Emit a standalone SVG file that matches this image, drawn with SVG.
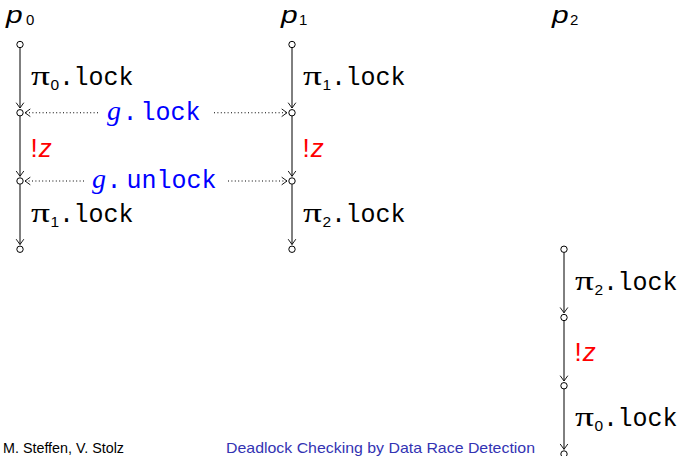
<svg xmlns="http://www.w3.org/2000/svg" width="683" height="456" viewBox="0 0 683 456">
<defs>
<marker id="ah" markerUnits="userSpaceOnUse" markerWidth="10" markerHeight="10" refX="6" refY="5" orient="auto" overflow="visible">
<path d="M1,1.4 L6,5 L1,8.6" fill="none" stroke="#000" stroke-width="0.9" stroke-linecap="round" stroke-linejoin="round"/>
</marker>
</defs>
<style>
.node{fill:#fff;stroke:#000;stroke-width:1}
.step{stroke:#000;stroke-width:1;fill:none;marker-end:url(#ah)}
.sync{stroke:#000;stroke-width:1;fill:none;stroke-dasharray:1 2.4;marker-end:url(#ah)}
.pi{font-family:"Liberation Serif",serif;font-size:27px}
.sub{font-family:"Liberation Sans",sans-serif;font-size:15.5px}
.tt{font-family:"Liberation Mono",monospace;font-size:25px}
.gv{font-family:"Liberation Serif",serif;font-style:italic;font-size:28px}
.hd{font-family:"Liberation Sans",sans-serif;font-style:italic;font-size:23px}
.hs{font-family:"Liberation Sans",sans-serif;font-size:15px}
.snd{font-family:"Liberation Sans",sans-serif;font-size:26px;fill:#f00}
.blue{fill:#00f}
.foot{font-family:"Liberation Sans",sans-serif}
</style>
<rect width="683" height="456" fill="#fff"/>

<g id="headers">
<text class="hd" transform="translate(6,22.5) scale(1.3,1)">p</text>
<text x="26" y="24.5" class="hs">0</text>
<text class="hd" transform="translate(281,22.5) scale(1.3,1)">p</text>
<text x="299" y="24.5" class="hs">1</text>
<text class="hd" transform="translate(552,22.5) scale(1.3,1)">p</text>
<text x="570" y="24.5" class="hs">2</text>
</g>

<g id="connectors">
<line class="step" x1="20" y1="47.7" x2="20" y2="108"/>
<line class="step" x1="20" y1="116" x2="20" y2="176.3"/>
<line class="step" x1="20" y1="184.2" x2="20" y2="244.5"/>
<line class="step" x1="292" y1="47.7" x2="292" y2="108"/>
<line class="step" x1="292" y1="116" x2="292" y2="176.3"/>
<line class="step" x1="292" y1="184.2" x2="292" y2="244.5"/>
<line class="step" x1="564" y1="252.5" x2="564" y2="312.8"/>
<line class="step" x1="564" y1="320.7" x2="564" y2="381"/>
<line class="step" x1="564" y1="389" x2="564" y2="449.3"/>
<line class="sync" x1="98" y1="112.75" x2="25" y2="112.75"/>
<line class="sync" x1="214" y1="112.75" x2="287" y2="112.75"/>
<line class="sync" x1="84" y1="181" x2="25" y2="181"/>
<line class="sync" x1="228" y1="181" x2="287" y2="181"/>
</g>

<g id="labels">
<text class="pi" x="31" y="85" textLength="19" lengthAdjust="spacingAndGlyphs">π</text>
<text class="sub" x="50.5" y="90">0</text>
<text class="tt" x="59" y="85">.<tspan dx="-0.5">lock</tspan></text>
<text class="snd" x="30.5" y="157">!<tspan font-style="italic" dx="1">z</tspan></text>
<text class="pi" x="31" y="221.5" textLength="19" lengthAdjust="spacingAndGlyphs">π</text>
<text class="sub" x="50.5" y="226.5">1</text>
<text class="tt" x="59" y="221.5">.<tspan dx="-0.5">lock</tspan></text>

<text class="pi" x="303" y="85" textLength="19" lengthAdjust="spacingAndGlyphs">π</text>
<text class="sub" x="322.5" y="90">1</text>
<text class="tt" x="331" y="85">.<tspan dx="-0.5">lock</tspan></text>
<text class="snd" x="302.5" y="157">!<tspan font-style="italic" dx="1">z</tspan></text>
<text class="pi" x="303" y="221.5" textLength="19" lengthAdjust="spacingAndGlyphs">π</text>
<text class="sub" x="322.5" y="226.5">2</text>
<text class="tt" x="331" y="221.5">.<tspan dx="-0.5">lock</tspan></text>

<text class="pi" x="575" y="290" textLength="19" lengthAdjust="spacingAndGlyphs">π</text>
<text class="sub" x="594.5" y="295">2</text>
<text class="tt" x="603" y="290">.<tspan dx="-0.5">lock</tspan></text>
<text class="snd" x="574.5" y="361">!<tspan font-style="italic" dx="1">z</tspan></text>
<text class="pi" x="575" y="426" textLength="19" lengthAdjust="spacingAndGlyphs">π</text>
<text class="sub" x="594.5" y="431">0</text>
<text class="tt" x="603" y="426">.<tspan dx="-0.5">lock</tspan></text>

<text class="gv blue" x="107" y="119.5">g</text>
<text class="tt blue" x="122.5" y="119.5">.<tspan dx="3">lock</tspan></text>
<text class="gv blue" x="92" y="187.5">g</text>
<text class="tt blue" x="106.5" y="187.5">.<tspan dx="5">unlock</tspan></text>
</g>

<g id="nodes">
<g id="p0_0"><circle class="node" cx="20" cy="44.5" r="3.2"/></g>
<g id="p0_1"><circle class="node" cx="20" cy="112.75" r="3.2"/></g>
<g id="p0_2"><circle class="node" cx="20" cy="181" r="3.2"/></g>
<g id="p0_3"><circle class="node" cx="20" cy="249.25" r="3.2"/></g>
<g id="p1_0"><circle class="node" cx="292" cy="44.5" r="3.2"/></g>
<g id="p1_1"><circle class="node" cx="292" cy="112.75" r="3.2"/></g>
<g id="p1_2"><circle class="node" cx="292" cy="181" r="3.2"/></g>
<g id="p1_3"><circle class="node" cx="292" cy="249.25" r="3.2"/></g>
<g id="p2_0"><circle class="node" cx="564" cy="249.25" r="3.2"/></g>
<g id="p2_1"><circle class="node" cx="564" cy="317.5" r="3.2"/></g>
<g id="p2_2"><circle class="node" cx="564" cy="385.75" r="3.2"/></g>
<g id="p2_3"><circle class="node" cx="564" cy="454" r="3.2"/></g>
</g>

<g id="footer">
<text class="foot" x="3" y="453" font-size="14" fill="#000" textLength="121" lengthAdjust="spacingAndGlyphs">M. Steffen, V. Stolz</text>
<text class="foot" x="226" y="453" font-size="15" fill="#3333b3" textLength="309" lengthAdjust="spacingAndGlyphs">Deadlock Checking by Data Race Detection</text>
</g>
</svg>
